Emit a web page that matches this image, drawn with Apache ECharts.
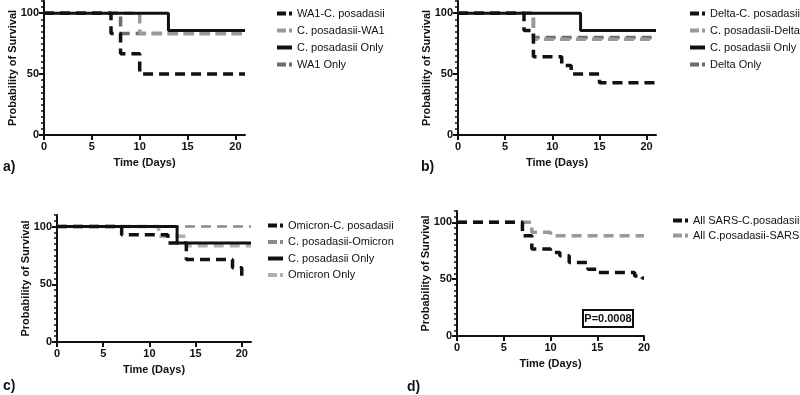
<!DOCTYPE html>
<html>
<head>
<meta charset="utf-8">
<script src="https://cdn.jsdelivr.net/npm/echarts@6/dist/echarts.min.js"></script>
<style>
  html, body { margin: 0; padding: 0; background: #fff; }
  #chart { width: 800px; height: 395px; }
</style>
</head>
<body>
<div id="chart"></div>
<script>
// a) WA1
const aWa1CpTime = [0, 7, 8, 10, 21];
const aWa1CpSurv = [100, 83.3, 66.7, 50, 50];
const aCpWa1Time = [0, 10, 21];
const aCpWa1Surv = [100, 83.3, 83.3];
const aCpOnlyTime = [0, 13, 21];
const aCpOnlySurv = [100, 85.7, 85.7];
const aWa1OnlyTime = [0, 8, 21];
const aWa1OnlySurv = [100, 83.3, 83.3];

// b) Delta
const bDeltaCpTime = [0, 7, 8, 11, 12, 15, 21];
const bDeltaCpSurv = [100, 85.7, 64.3, 57.1, 50, 42.9, 42.9];
const bCpDeltaTime = [0, 8, 21];
const bCpDeltaSurv = [100, 78.6, 78.6];
const bCpOnlyTime = [0, 13, 21];
const bCpOnlySurv = [100, 85.7, 85.7];
const bDeltaOnlyTime = [0, 8, 21];
const bDeltaOnlySurv = [100, 80, 80];

// c) Omicron
const cOmiCpTime = [0, 7, 12, 14, 19, 20, 20.3];
const cOmiCpSurv = [100, 92.9, 85.7, 71.4, 64.3, 57.1, 57.1];
const cCpOmiTime = [0, 21];
const cCpOmiSurv = [100, 100];
const cCpOnlyTime = [0, 13, 21];
const cCpOnlySurv = [100, 85.7, 85.7];
const cOmiOnlyTime = [0, 11, 14, 21];
const cOmiOnlySurv = [100, 91.7, 83.3, 83.3];

// d) all SARS
const dSarsCpTime = [0, 7, 8, 10, 11, 12, 14, 15, 19, 19.8, 20];
const dSarsCpSurv = [100, 88.2, 76.5, 73.5, 70.6, 64.7, 58.8, 55.9, 52.9, 51, 51];
const dCpSarsTime = [0, 8, 10, 20];
const dCpSarsSurv = [100, 91.2, 88.2, 88.2];

const xTicks = [0, 5, 10, 15, 20];
const yTicks = [0, 50, 100];
const yMinorTicks = [5, 10, 15, 20, 25, 30, 35, 40, 45, 55, 60, 65, 70, 75, 80, 85, 90, 95, 105, 110];
const pValue = 'P=0.0008';

const FONT = "'Liberation Sans', Arial, sans-serif";
const BLACK = '#111';
const DASH = [10, 6];
const DASH_ICON = 'path://M0,0H9V4H0Z M12,0H15V4H12Z';
const SOLID_ICON = 'path://M0,0H15V4H0Z';

function km(name, time, surv, color, dashed, gi, width) {
  return {
    type: 'line',
    name: name,
    step: 'end',
    xAxisIndex: gi,
    yAxisIndex: gi,
    symbol: 'none',
    silent: true,
    data: time.map((t, i) => [t, surv[i]]),
    lineStyle: { color: color, width: width || 3.5, type: dashed ? DASH : 'solid', cap: 'butt' },
    itemStyle: { color: color },
  };
}

function xAxis(gi, max) {
  return {
    type: 'value', gridIndex: gi, min: 0, max: max,
    name: 'Time (Days)', nameLocation: 'middle', nameGap: 22,
    nameTextStyle: { fontFamily: FONT, fontWeight: 'bold', fontSize: 11, color: BLACK },
    axisLine: { lineStyle: { color: BLACK, width: 2 } },
    axisTick: { customValues: xTicks, length: 5, lineStyle: { color: BLACK, width: 2 } },
    axisLabel: { customValues: xTicks, margin: 6, fontFamily: FONT, fontWeight: 'bold', fontSize: 11, color: BLACK },
    splitLine: { show: false },
  };
}

function yAxis(gi) {
  return {
    type: 'value', gridIndex: gi, min: 0, max: 110,
    name: 'Probability of Survival', nameLocation: 'middle', nameGap: 26, nameRotate: 90,
    nameMoveOverlap: false,
    nameTextStyle: { fontFamily: FONT, fontWeight: 'bold', fontSize: 11, color: BLACK },
    axisLine: { show: true, lineStyle: { color: BLACK, width: 2 } },
    axisTick: { show: true, customValues: yTicks, length: 5, lineStyle: { color: BLACK, width: 2 } },
    axisLabel: { customValues: yTicks, margin: 5, fontFamily: FONT, fontWeight: 'bold', fontSize: 11, color: BLACK },
    splitLine: { show: false },
  };
}

function yMinor(gi) {
  return {
    type: 'value', gridIndex: gi, min: 0, max: 110, position: 'left',
    axisLine: { show: false },
    axisTick: { show: true, customValues: yMinorTicks, length: 3, lineStyle: { color: BLACK, width: 1.5 } },
    axisLabel: { show: false },
    splitLine: { show: false },
  };
}

// names: [name, dashed]
function legend(left, top, gap, names) {
  return {
    orient: 'vertical', left: left, top: top, itemGap: gap, padding: 0,
    itemWidth: 15, itemHeight: 4, selectedMode: false,
    textStyle: { fontFamily: FONT, fontSize: 11, color: BLACK },
    data: names.map(([n, dashed]) => ({ name: n, icon: dashed ? DASH_ICON : SOLID_ICON })),
  };
}

function panelLabel(text, left, top) {
  return { type: 'text', left: left, top: top, style: { text: text, font: 'bold 14px ' + FONT, fill: BLACK } };
}

const chart = echarts.init(document.getElementById('chart'));

chart.setOption({
  animation: false,
  backgroundColor: '#fff',
  grid: [
    { left: 44, top: 1, width: 201, height: 134 },
    { left: 458, top: 1, width: 198, height: 134 },
    { left: 57, top: 215, width: 194, height: 127 },
    { left: 457, top: 211, width: 187, height: 125 },
  ],
  xAxis: [xAxis(0, 21), xAxis(1, 21), xAxis(2, 21), xAxis(3, 20)],
  yAxis: [yAxis(0), yAxis(1), yAxis(2), yAxis(3), yMinor(0), yMinor(1), yMinor(2), yMinor(3)],
  legend: [
    legend(277, 8, 6, [['WA1-C. posadasii', true], ['C. posadasii-WA1', true], ['C. posadasii Only', false], ['WA1 Only', true]]),
    legend(690, 8, 6, [['Delta-C. posadasii', true], ['C. posadasii-Delta', true], ['C. posadasii Only', false], ['Delta Only', true]]),
    legend(268, 220, 5.5, [['Omicron-C. posadasii', true], ['C. posadasii-Omicron', true], ['C. posadasii Only', false], ['Omicron Only', true]]),
    legend(673, 215, 4, [['All SARS-C.posadasii', true], ['All C.posadasii-SARS', true]]),
  ],
  series: [
    km('WA1 Only', aWa1OnlyTime, aWa1OnlySurv, '#6b6b6b', true, 0),
    km('C. posadasii-WA1', aCpWa1Time, aCpWa1Surv, '#9a9a9a', true, 0),
    km('WA1-C. posadasii', aWa1CpTime, aWa1CpSurv, BLACK, true, 0),
    km('C. posadasii Only', aCpOnlyTime, aCpOnlySurv, BLACK, false, 0, 3),

    km('Delta Only', bDeltaOnlyTime, bDeltaOnlySurv, '#6b6b6b', true, 1),
    km('C. posadasii-Delta', bCpDeltaTime, bCpDeltaSurv, '#9a9a9a', true, 1),
    km('Delta-C. posadasii', bDeltaCpTime, bDeltaCpSurv, BLACK, true, 1),
    km('C. posadasii Only', bCpOnlyTime, bCpOnlySurv, BLACK, false, 1, 3),

    km('Omicron Only', cOmiOnlyTime, cOmiOnlySurv, '#b0b0b0', true, 2),
    km('C. posadasii-Omicron', cCpOmiTime, cCpOmiSurv, '#8c8c8c', true, 2, 2.5),
    km('Omicron-C. posadasii', cOmiCpTime, cOmiCpSurv, BLACK, true, 2),
    km('C. posadasii Only', cCpOnlyTime, cCpOnlySurv, BLACK, false, 2, 3),

    km('All C.posadasii-SARS', dCpSarsTime, dCpSarsSurv, '#999', true, 3),
    km('All SARS-C.posadasii', dSarsCpTime, dSarsCpSurv, BLACK, true, 3),
  ],
  graphic: [
    panelLabel('a)', 3, 160),
    panelLabel('b)', 421, 160),
    panelLabel('c)', 3, 379),
    panelLabel('d)', 407, 380),
    {
      type: 'rect', shape: { x: 583, y: 310, width: 50, height: 17 },
      style: { fill: '#fff', stroke: BLACK, lineWidth: 2 }, z: 10,
    },
    {
      type: 'text', x: 608, y: 319, z: 11,
      style: { text: pValue, font: 'bold 11px ' + FONT, fill: BLACK, align: 'center', verticalAlign: 'middle' },
    },
  ],
});
</script>
</body>
</html>
